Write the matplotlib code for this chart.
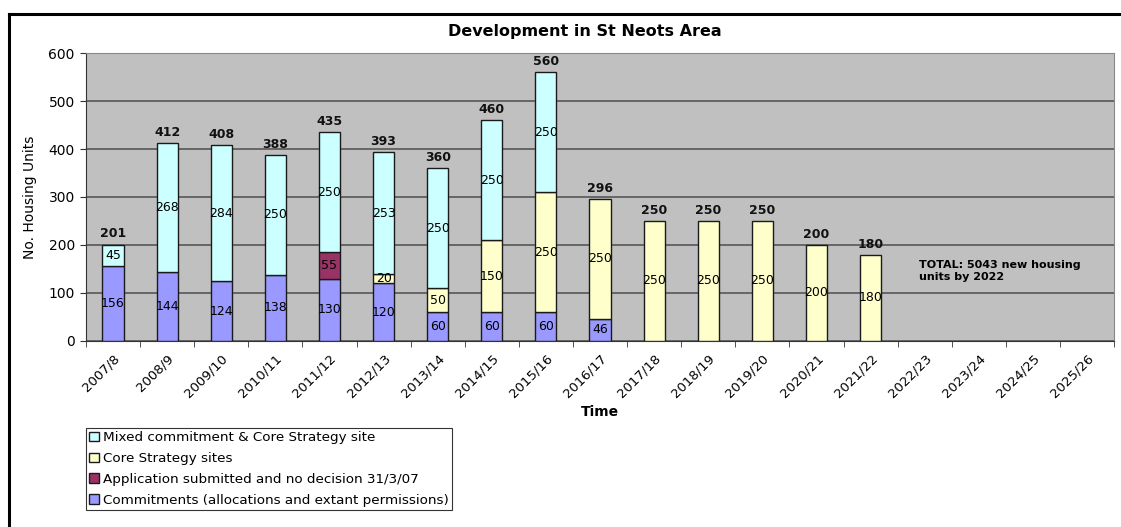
import matplotlib.pyplot as plt
from matplotlib.lines import Line2D
from matplotlib.transforms import ScaledTranslation
import numpy as np

plt.rcParams['font.family'] = ['DejaVu Sans']

years = ['2007/8', '2008/9', '2009/10', '2010/11', '2011/12', '2012/13', '2013/14',
         '2014/15', '2015/16', '2016/17', '2017/18', '2018/19', '2019/20', '2020/21',
         '2021/22', '2022/23', '2023/24', '2024/25', '2025/26']

commitments = [156, 144, 124, 138, 130, 120, 60, 60, 60, 46, 0, 0, 0, 0, 0, 0, 0, 0, 0]
application = [0, 0, 0, 0, 55, 0, 0, 0, 0, 0, 0, 0, 0, 0, 0, 0, 0, 0, 0]
core_sites = [0, 0, 0, 0, 0, 20, 50, 150, 250, 250, 250, 250, 250, 200, 180, 0, 0, 0, 0]
mixed = [45, 268, 284, 250, 250, 253, 250, 250, 250, 0, 0, 0, 0, 0, 0, 0, 0, 0, 0]

series = [
    ('Commitments (allocations and extant permissions)', commitments, '#9999FF'),
    ('Application submitted and no decision 31/3/07', application, '#993366'),
    ('Core Strategy sites', core_sites, '#FFFFCC'),
    ('Mixed commitment & Core Strategy site', mixed, '#CCFFFF'),
]

fig = plt.figure(figsize=(11.21, 5.27), dpi=100)
ax = fig.add_axes([0.0767, 0.353, 0.9171, 0.5464])
ax.set_facecolor('#C0C0C0')

x = np.arange(len(years))
bottom = np.zeros(len(years))
handles = []
for name, vals, col in series:
    vals = np.array(vals, dtype=float)
    keep = vals > 0  # skip empty segments so no flat outlines are drawn
    bars = ax.bar(x[keep], vals[keep], 0.39, bottom=bottom[keep], color=col,
                  edgecolor='#1a1a1a', linewidth=1.0, label=name, zorder=3)
    for xi, v, b in zip(x[keep], vals[keep], bottom[keep]):
        ax.text(xi, b + v / 2, f'{int(v)}', ha='center', va='center',
                fontsize=9, color='black', zorder=4)
    handles.append(bars)
    bottom += vals

# totals above each bar
for xi, t in zip(x, bottom):
    if t > 0:
        ax.text(xi, t + 22, f'{int(t)}', ha='center', va='center', fontsize=9,
                fontweight='bold', color='#111111', zorder=4)

ax.set_xlim(-0.5, len(years) - 0.5)
ax.set_ylim(0, 600)
ax.set_yticks(range(0, 601, 100))
ax.yaxis.grid(True, color='#5f5f5f', linewidth=1.3, zorder=1)
ax.set_axisbelow(True)

ax.set_xticks(x)
ax.set_xticklabels(years, rotation=45, ha='right', rotation_mode='anchor', fontsize=9.5)
shift = ScaledTranslation(-6 / 72, 0, fig.dpi_scale_trans)
for lbl in ax.get_xticklabels():
    lbl.set_transform(lbl.get_transform() + shift)
ax.set_xticks(np.arange(-0.5, len(years)), minor=True)
ax.tick_params(axis='x', which='major', length=0, pad=8)
ax.tick_params(axis='x', which='minor', length=4, direction='out', color='#333333')
ax.tick_params(axis='y', labelsize=10, length=4, color='#333333', pad=4)

for s in ['top', 'right']:
    ax.spines[s].set_color('#888888')
for s in ['left', 'bottom']:
    ax.spines[s].set_color('#333333')

ax.set_xlabel('Time', fontsize=10, fontweight='bold', labelpad=3)
ax.set_ylabel('No. Housing Units', fontsize=10, labelpad=8)

fig.text(0.522, 0.94, 'Development in St Neots Area', ha='center', va='center',
         fontsize=11.5, fontweight='bold')

ax.text(14.9, 146, 'TOTAL: 5043 new housing\nunits by 2022', ha='left', va='center',
        fontsize=8, fontweight='bold', linespacing=1.3, zorder=4)

leg = fig.legend(handles[::-1], [s[0] for s in series][::-1], loc='upper left',
                 bbox_to_anchor=(0.0767, 0.188), fontsize=9.7, frameon=True, fancybox=False,
                 handlelength=0.7, handleheight=0.7, handletextpad=0.3, labelspacing=0.58,
                 borderpad=0.25, borderaxespad=0)
leg.get_frame().set_edgecolor('black')
leg.get_frame().set_linewidth(0.8)

# outer chart border (top and left edges visible)
fig.add_artist(Line2D([0.008, 1.0], [0.974, 0.974], color='black', linewidth=2.2,
                      transform=fig.transFigure))
fig.add_artist(Line2D([0.008, 0.008], [0.974, 0.0], color='black', linewidth=2.2,
                      transform=fig.transFigure))

fig.savefig('out.png', dpi=100)
